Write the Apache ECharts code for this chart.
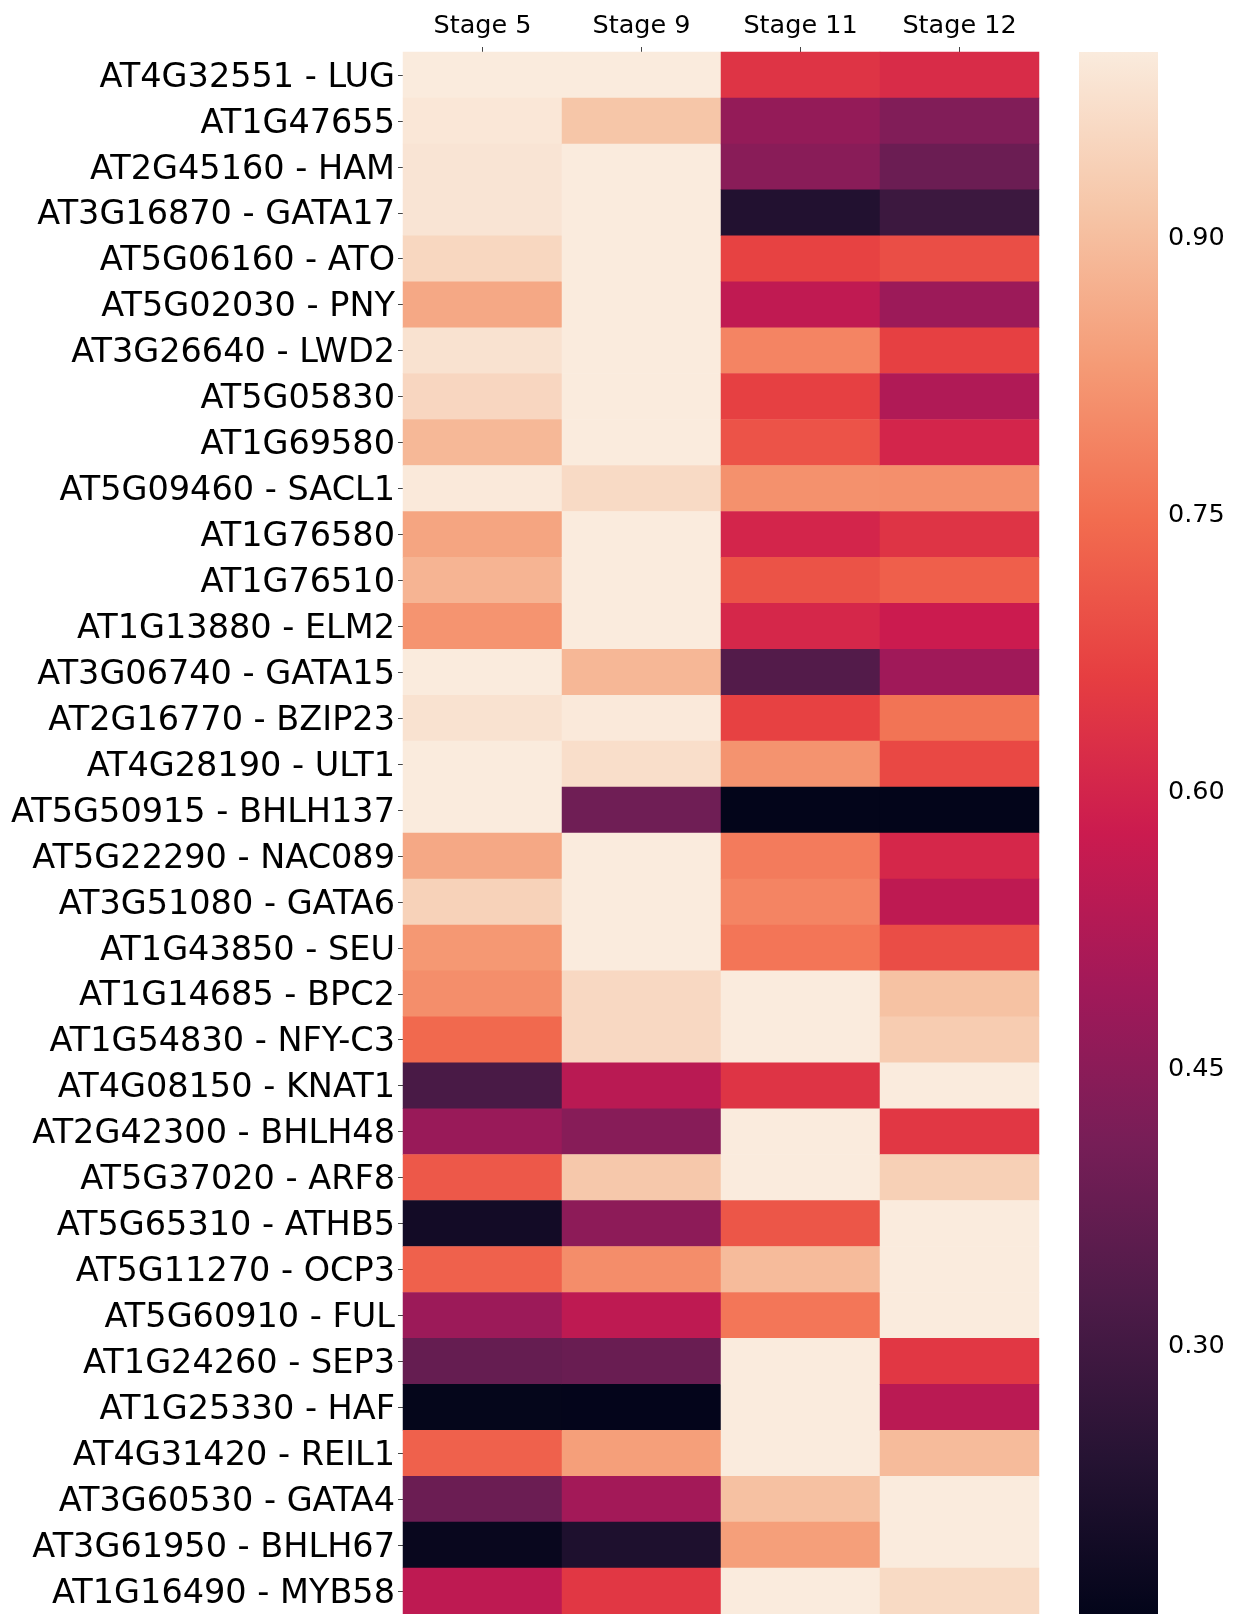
<!DOCTYPE html>
<html>
<head>
<meta charset="utf-8">
<script src="https://cdn.jsdelivr.net/npm/echarts@6/dist/echarts.min.js"></script>
<style>
html,body{margin:0;padding:0;background:#fff;}
#chart{width:1236px;height:1614px;}
</style>
</head>
<body>
<div id="chart"></div>
<script>
const genes = [
  "AT4G32551 - LUG", "AT1G47655", "AT2G45160 - HAM", "AT3G16870 - GATA17",
  "AT5G06160 - ATO", "AT5G02030 - PNY", "AT3G26640 - LWD2", "AT5G05830",
  "AT1G69580", "AT5G09460 - SACL1", "AT1G76580", "AT1G76510",
  "AT1G13880 - ELM2", "AT3G06740 - GATA15", "AT2G16770 - BZIP23", "AT4G28190 - ULT1",
  "AT5G50915 - BHLH137", "AT5G22290 - NAC089", "AT3G51080 - GATA6", "AT1G43850 - SEU",
  "AT1G14685 - BPC2", "AT1G54830 - NFY-C3", "AT4G08150 - KNAT1", "AT2G42300 - BHLH48",
  "AT5G37020 - ARF8", "AT5G65310 - ATHB5", "AT5G11270 - OCP3", "AT5G60910 - FUL",
  "AT1G24260 - SEP3", "AT1G25330 - HAF", "AT4G31420 - REIL1", "AT3G60530 - GATA4",
  "AT3G61950 - BHLH67", "AT1G16490 - MYB58"
];
const stages = ["Stage 5", "Stage 9", "Stage 11", "Stage 12"];

const stage5 = [1.0, 0.99, 0.985, 0.985, 0.954, 0.856, 0.98, 0.953, 0.887, 0.995,
  0.85, 0.88, 0.818, 1.0, 0.98, 1.0, 1.0, 0.856, 0.942, 0.825,
  0.807, 0.74, 0.315, 0.477, 0.71, 0.193, 0.726, 0.483, 0.373, 0.158,
  0.726, 0.386, 0.169, 0.55];
const stage9 = [1.0, 0.915, 1.0, 1.0, 1.0, 1.0, 1.0, 1.0, 1.0, 0.961,
  1.0, 1.0, 1.0, 0.885, 0.995, 0.97, 0.394, 1.0, 1.0, 1.0,
  0.957, 0.957, 0.54, 0.442, 0.92, 0.454, 0.805, 0.551, 0.382, 0.156,
  0.838, 0.497, 0.22, 0.645];
const stage11 = [0.638, 0.467, 0.446, 0.228, 0.669, 0.554, 0.789, 0.665, 0.701, 0.812,
  0.602, 0.70, 0.607, 0.336, 0.667, 0.816, 0.154, 0.774, 0.789, 0.763,
  1.0, 1.0, 0.638, 1.0, 1.0, 0.705, 0.893, 0.765, 1.0, 1.0,
  1.0, 0.905, 0.838, 1.0];
const stage12 = [0.618, 0.43, 0.386, 0.287, 0.691, 0.483, 0.665, 0.522, 0.602, 0.81,
  0.638, 0.723, 0.576, 0.491, 0.76, 0.68, 0.155, 0.607, 0.55, 0.69,
  0.907, 0.929, 1.0, 0.645, 0.938, 1.0, 1.0, 1.0, 0.645, 0.542,
  0.893, 1.0, 1.0, 0.96];

const colorbarTicks = [0.30, 0.45, 0.60, 0.75, 0.90];

// seaborn "rocket" colormap, evenly spaced stops from low to high
const rocket = ['#03051A', '#261333', '#4D1B48', '#761E57', '#A11959', '#CB1B4F',
  '#E63E41', '#F26C4F', '#F59B76', '#F6C6A8', '#FAEBDD'];

const columns = [stage5, stage9, stage11, stage12];
const data = [];
columns.forEach((col, xi) => col.forEach((v, yi) => data.push([xi, yi, v])));
const all = columns.flat();
const vmin = Math.min(...all);
const vmax = Math.max(...all);

const FONT = 'DejaVu Sans';
const chart = echarts.init(document.getElementById('chart'), null, {renderer: 'canvas'});

const gradStops = rocket.map((c, i) => ({offset: 1 - i / (rocket.length - 1), color: c})).reverse();

chart.setOption({
  animation: false,
  backgroundColor: '#ffffff',
  textStyle: {fontFamily: FONT},
  grid: [
    {left: 403, top: 52, width: 636, height: 1562, containLabel: false},
    {left: 1079, top: 52, width: 79, height: 1562, containLabel: false}
  ],
  xAxis: [
    {
      type: 'category', gridIndex: 0, data: stages, position: 'top',
      axisLine: {show: false},
      axisTick: {show: true, alignWithLabel: true, length: 5, lineStyle: {color: '#444', width: 1}},
      axisLabel: {fontFamily: FONT, fontSize: 25.5, color: '#000', margin: 13},
      splitLine: {show: false}
    },
    {type: 'value', gridIndex: 1, min: 0, max: 1, show: false}
  ],
  yAxis: [
    {
      type: 'category', gridIndex: 0, data: genes, inverse: true,
      axisLine: {show: false},
      axisTick: {show: true, alignWithLabel: true, length: 5, lineStyle: {color: '#444', width: 1}},
      axisLabel: {fontFamily: FONT, fontSize: 33.5, color: '#000', margin: 8,
        verticalAlign: 'top', lineHeight: 6},
      splitLine: {show: false}
    },
    {
      type: 'value', gridIndex: 1, position: 'right', min: vmin, max: vmax,
      axisLine: {show: false},
      splitLine: {show: false},
      axisTick: {show: true, length: 5, customValues: colorbarTicks, lineStyle: {color: '#444', width: 1}},
      axisLabel: {fontFamily: FONT, fontSize: 25.5, color: '#000', margin: 10,
        verticalAlign: 'top', lineHeight: 4,
        customValues: colorbarTicks, formatter: v => v.toFixed(2)}
    }
  ],
  visualMap: {
    type: 'continuous', show: false, seriesIndex: 0,
    min: vmin, max: vmax, inRange: {color: rocket}
  },
  series: [
    {
      type: 'heatmap', xAxisIndex: 0, yAxisIndex: 0, data: data,
      itemStyle: {borderWidth: 0}, emphasis: {disabled: true}
    },
    {
      type: 'custom', xAxisIndex: 1, yAxisIndex: 1, silent: true,
      data: [[0.5, (vmin + vmax) / 2]],
      renderItem: (params, api) => {
        const p0 = api.coord([0, vmax]);
        const p1 = api.coord([1, vmin]);
        return {
          type: 'rect',
          shape: {x: p0[0], y: p0[1], width: p1[0] - p0[0], height: p1[1] - p0[1]},
          style: {fill: new echarts.graphic.LinearGradient(0, 0, 0, 1, gradStops)}
        };
      }
    }
  ]
});
</script>
</body>
</html>
